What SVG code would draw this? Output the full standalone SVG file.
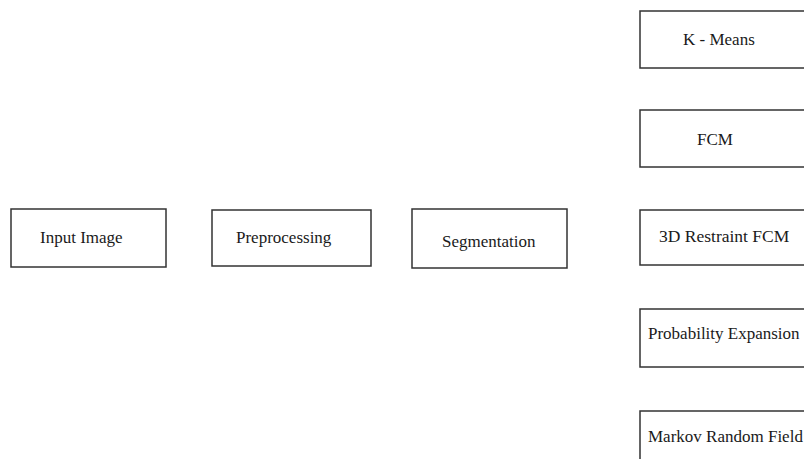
<svg xmlns="http://www.w3.org/2000/svg" width="804" height="459" viewBox="0 0 804 459">
<style>
.box{fill:#fff;stroke:#333;stroke-width:1.5}
.lbl{font-family:"Liberation Serif","Times New Roman",serif;font-size:17px;fill:#1a1a1a}
</style>
<rect width="804" height="459" fill="#fff"/>
<g id="connectors"></g>
<g id="input-image"><rect class="box" x="11" y="209" width="155" height="58"/><text class="lbl" x="40" y="243">Input Image</text></g>
<g id="preprocessing"><rect class="box" x="212" y="210" width="159" height="56"/><text class="lbl" x="236" y="243">Preprocessing</text></g>
<g id="segmentation"><rect class="box" x="412" y="209" width="155" height="59"/><text class="lbl" x="442" y="247">Segmentation</text></g>
<g id="kmeans"><rect class="box" x="640" y="11" width="180" height="57"/><text class="lbl" x="683" y="45">K - Means</text></g>
<g id="fcm"><rect class="box" x="640" y="110" width="180" height="57"/><text class="lbl" x="697" y="145">FCM</text></g>
<g id="restraint-fcm"><rect class="box" x="640" y="210" width="180" height="55"/><text class="lbl" x="659" y="242" style="font-size:17.5px">3D Restraint FCM</text></g>
<g id="probability-expansion"><rect class="box" x="640" y="309" width="180" height="58"/><text class="lbl" x="648" y="339">Probability Expansion</text></g>
<g id="markov"><rect class="box" x="640" y="411" width="180" height="60"/><text class="lbl" x="648" y="442">Markov Random Field</text></g>
</svg>
